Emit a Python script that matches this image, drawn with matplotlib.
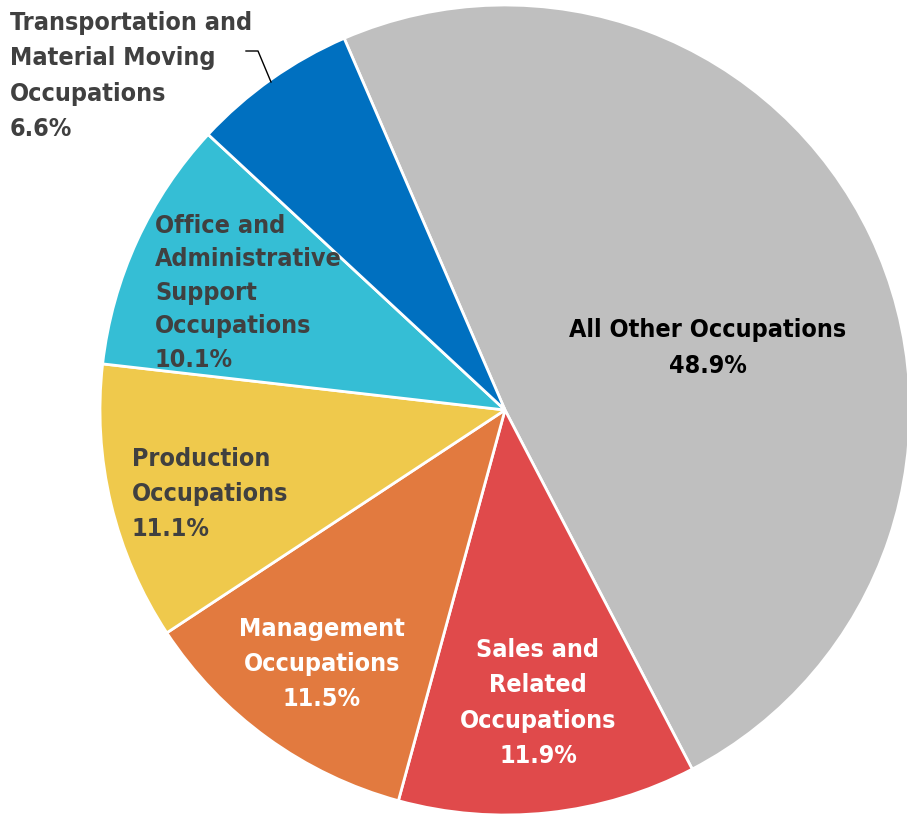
import matplotlib
matplotlib.use("Agg")
import matplotlib.pyplot as plt

categories = ["All Other Occupations",
              "Sales and\nRelated\nOccupations",
              "Management\nOccupations",
              "Production\nOccupations",
              "Office and\nAdministrative\nSupport\nOccupations",
              "Transportation and\nMaterial Moving\nOccupations"]
shares = [48.9, 11.9, 11.5, 11.1, 10.1, 6.6]
colors = ["#BFBFBF", "#E04A4B", "#E27A3F", "#EFC94C", "#35BED5", "#0070C0"]
text_colors = ["black", "white", "white", "#404040", "#404040", "#404040"]

W, H = 907, 819
cx, cy, R = 505, 410, 405  # pie centre / radius in pixels


def px(x, y):
    # pixel position -> data coords (radius = 1)
    return (x - cx) / R, (cy - y) / R


# label anchors (pixel), alignment, line spacing
label_pos = [(708, 348, "center", 1.6), (538, 703, "center", 1.6),
             (322, 664, "center", 1.6), (132, 494, "left", 1.6),
             (155, 293, "left", 1.5), (10, 76, "left", 1.6)]

fig = plt.figure(figsize=(W / 100, H / 100), dpi=100)
ax = fig.add_axes([0, 0, 1, 1])
ax.pie(shares, colors=colors, startangle=113.4, counterclock=False,
       radius=1, wedgeprops=dict(edgecolor="white", linewidth=2))
ax.set_xlim(-cx / R, (W - cx) / R)
ax.set_ylim(-(H - cy) / R, cy / R)
ax.set_aspect("equal")
ax.axis("off")

for name, val, tc, (x, y, ha, ls) in zip(categories, shares, text_colors, label_pos):
    tx, ty = px(x, y)
    ax.text(tx, ty, f"{name}\n{val}%", ha=ha, va="center", color=tc,
            family="DejaVu Sans", fontweight="bold", fontstretch="condensed",
            fontsize=18, linespacing=ls, multialignment=ha)

# leader line for the small slice
lx, ly = zip(px(246, 51), px(258, 51), px(271, 82))
ax.plot(lx, ly, color="black", linewidth=1)

fig.savefig("out.png", dpi=100)
